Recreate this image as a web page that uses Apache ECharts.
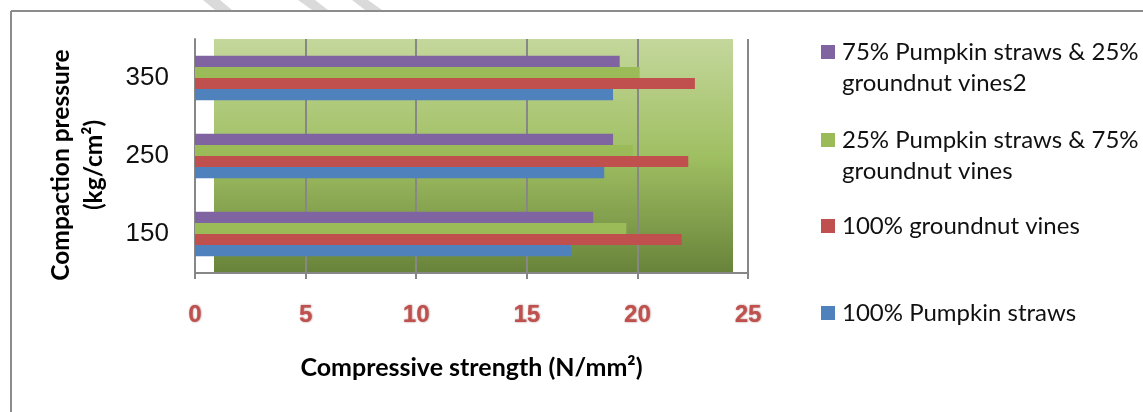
<!DOCTYPE html>
<html><head><meta charset="utf-8">
<script src="https://cdn.jsdelivr.net/npm/echarts@6/dist/echarts.min.js"></script>
<style>html,body{margin:0;padding:0;background:#fff}#c{width:1143px;height:412px}</style>
</head><body><div id="c"></div><script>
const categories = ['150', '250', '350'];
const seriesNames = [
  '100% Pumpkin straws',
  '100% groundnut vines',
  '25% Pumpkin straws & 75% groundnut vines',
  '75% Pumpkin straws & 25% groundnut vines2'
];
const pumpkin100 = [17.0, 18.5, 18.9];
const groundnut100 = [22.0, 22.3, 22.6];
const pumpkin25 = [19.5, 19.8, 20.1];
const pumpkin75 = [18.0, 18.9, 19.2];
const xMin = 0, xMax = 25, xStep = 5;
const colors = ['#4f81bd', '#c0504d', '#9bbb59', '#8064a2'];
const seriesValues = [pumpkin100, groundnut100, pumpkin25, pumpkin75];

const NARROW = "'Liberation Sans Narrow', sans-serif";
const FONT = "Lato, 'Open Sans', sans-serif";
const GREY = '#878787';

const legendLines = {
  [seriesNames[3]]: ' \n75% Pumpkin straws & 25%\ngroundnut vines2',
  [seriesNames[2]]: ' \n25% Pumpkin straws & 75%\ngroundnut vines',
  [seriesNames[1]]: '100% groundnut vines',
  [seriesNames[0]]: '100% Pumpkin straws'
};
const legendTops = [297.5, 210.5, 93.5, 5.5];

// ECharts stacks horizontal bar series from the top; Excel from the bottom.
const order = [3, 2, 1, 0];

const chart = echarts.init(document.getElementById('c'), null, {renderer: 'canvas'});
chart.setOption({
  animation: false,
  backgroundColor: '#fff',
  grid: {left: 195, right: 395, top: 39, bottom: 139, containLabel: false},
  xAxis: {
    type: 'value', min: xMin, max: xMax, interval: xStep,
    name: 'Compressive strength (N/mm²)', nameLocation: 'middle', nameGap: 82,
    nameTextStyle: {fontFamily: FONT, fontWeight: 'bold', fontSize: 25, color: '#000'},
    axisLine: {show: true, lineStyle: {color: GREY, width: 2}},
    axisTick: {show: true, length: 6, lineStyle: {color: GREY, width: 2}},
    splitLine: {show: true, lineStyle: {color: GREY, width: 2}},
    axisLabel: {
      margin: 30, fontFamily: NARROW, fontWeight: 'bold', fontSize: 24, color: '#c0504d',
      textShadowColor: 'rgba(90,0,0,0.55)', textShadowBlur: 2, textShadowOffsetX: 0.5, textShadowOffsetY: 0.5
    }
  },
  yAxis: {
    type: 'category', data: categories,
    axisLine: {show: true, lineStyle: {color: GREY, width: 2}},
    axisTick: {show: false},
    splitLine: {show: false},
    axisLabel: {margin: 26, fontFamily: NARROW, fontSize: 26, color: '#111'}
  },
  legend: seriesNames.map((n, i) => ({
    data: [n], orient: 'vertical', left: 821, top: legendTops[i], padding: 0,
    itemWidth: 14, itemHeight: 14, itemGap: 0, icon: 'rect',
    formatter: name => legendLines[name],
    textStyle: {fontFamily: FONT, fontSize: 24, lineHeight: 31, color: '#111', padding: [0, 0, 0, 2]}
  })),
  graphic: [
    {type: 'rect', z: -10, shape: {x: 214, y: 39, width: 519, height: 235},
      style: {fill: new echarts.graphic.LinearGradient(0, 0, 0, 1, [
        {offset: 0, color: '#c4d79c'}, {offset: 0.5, color: '#9fbf62'}, {offset: 1, color: '#67833a'}])}},
    {type: 'line', shape: {x1: 11, y1: 11, x2: 1143, y2: 11}, style: {stroke: '#8c8c8c', lineWidth: 2}},
    {type: 'line', shape: {x1: 11, y1: 11, x2: 11, y2: 412}, style: {stroke: '#8c8c8c', lineWidth: 2}},
    {type: 'polygon', shape: {points: [[203, 0], [220, 0], [232, 10], [215, 10]]}, style: {fill: '#dadada'}},
    {type: 'polygon', shape: {points: [[298, 0], [315, 0], [328, 10], [312, 10]]}, style: {fill: '#dadada'}},
    {type: 'polygon', shape: {points: [[352, 0], [368, 0], [382, 10], [365, 10]]}, style: {fill: '#dadada'}},
    {type: 'text', x: 78, y: 165, rotation: Math.PI / 2,
      style: {text: 'Compaction pressure\n(kg/cm²)', fontFamily: FONT, fontWeight: 'bold', fontSize: 24.5,
        lineHeight: 33, fill: '#000', align: 'center', verticalAlign: 'middle'}}
  ],
  series: order.map(i => ({
    name: seriesNames[i], type: 'bar', data: seriesValues[i],
    itemStyle: {color: colors[i]},
    barGap: '0%', barCategoryGap: '43%'
  }))
});
</script></body></html>
